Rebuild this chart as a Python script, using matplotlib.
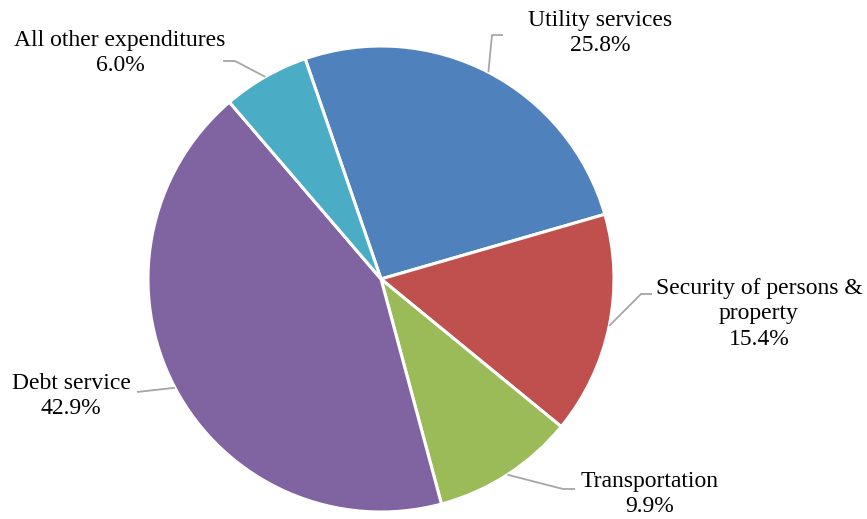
import numpy as np
import matplotlib.pyplot as plt

categories = ['Utility services', 'Security of persons &\nproperty', 'Transportation',
              'Debt service', 'All other expenditures']
shares = [25.8, 15.4, 9.9, 42.9, 6.0]
colors = ['#4F81BD', '#C0504D', '#9BBB59', '#8064A2', '#4BACC6']

W, H = 867, 519
cx, cy, r = 381, H - 279, 233

# label centre, elbow and end of leader line (pixel coords, y from top)
label_pos = [(600, 33), (759, 314), (650, 494), (71, 396), (120, 53)]
elbows = [[(492, 35), (503, 35)],
          [(641, 294), (652, 294)],
          [(563, 489), (575, 489)],
          [(137, 392)],
          [(235, 61), (223, 61)]]

plt.rcParams['font.family'] = ['Liberation Serif', 'DejaVu Serif']

fig = plt.figure(figsize=(W / 100, H / 100), dpi=100)
ax = fig.add_axes([0, 0, 1, 1])
wedges, _ = ax.pie(shares, colors=colors, startangle=109, counterclock=False,
                   center=(cx, cy), radius=r, frame=True,
                   wedgeprops=dict(edgecolor='white', linewidth=2.2))
ax.set_xlim(0, W)
ax.set_ylim(0, H)
ax.axis('off')

for w, name, val, (tx, ty), pts in zip(wedges, categories, shares, label_pos, elbows):
    mid = np.deg2rad((w.theta1 + w.theta2) / 2)
    xs = [cx + r * np.cos(mid)] + [p[0] for p in pts]
    ys = [cy + r * np.sin(mid)] + [H - p[1] for p in pts]
    ax.plot(xs, ys, color='#A6A6A6', lw=1.3, solid_capstyle='butt')
    ax.text(tx, H - ty, f'{name}\n{val:.1f}%', ha='center', va='center',
            fontsize=17, linespacing=1.28, color='#000000')

fig.savefig('out.png', dpi=100)
